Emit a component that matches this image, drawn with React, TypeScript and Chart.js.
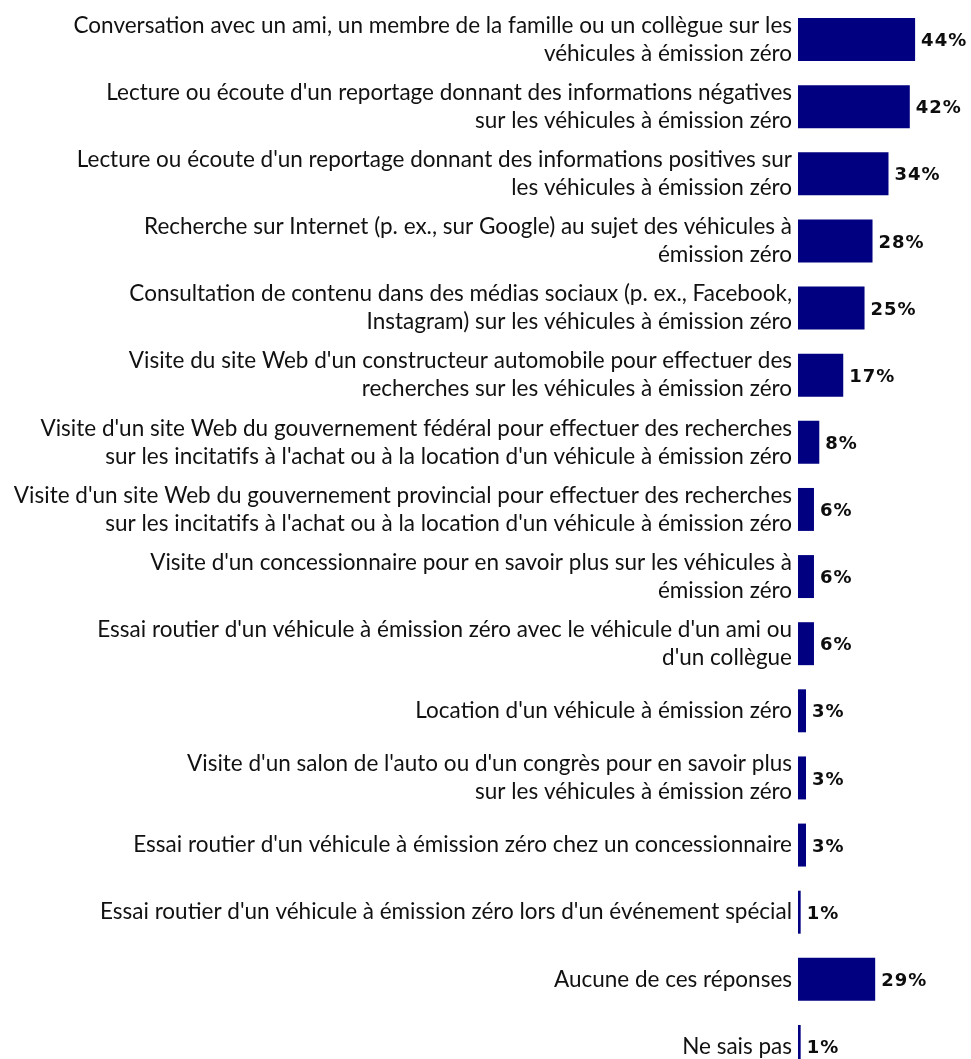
import React, { useEffect, useRef } from "react";
import { Chart, registerables } from "chart.js";

Chart.register(...registerables);

const categories: string[][] = [
  ["Conversation avec un ami, un membre de la famille ou un collègue sur les", "véhicules à émission zéro"],
  ["Lecture ou écoute d'un reportage donnant des informations négatives", "sur les véhicules à émission zéro"],
  ["Lecture ou écoute d'un reportage donnant des informations positives sur", "les véhicules à émission zéro"],
  ["Recherche sur Internet (p. ex., sur Google) au sujet des véhicules à", "émission zéro"],
  ["Consultation de contenu dans des médias sociaux (p. ex., Facebook,", "Instagram) sur les véhicules à émission zéro"],
  ["Visite du site Web d'un constructeur automobile pour effectuer des", "recherches sur les véhicules à émission zéro"],
  ["Visite d'un site Web du gouvernement fédéral pour effectuer des recherches", "sur les incitatifs à l'achat ou à la location d'un véhicule à émission zéro"],
  ["Visite d'un site Web du gouvernement provincial pour effectuer des recherches", "sur les incitatifs à l'achat ou à la location d'un véhicule à émission zéro"],
  ["Visite d'un concessionnaire pour en savoir plus sur les véhicules à", "émission zéro"],
  ["Essai routier d'un véhicule à émission zéro avec le véhicule d'un ami ou", "d'un collègue"],
  ["Location d'un véhicule à émission zéro"],
  ["Visite d'un salon de l'auto ou d'un congrès pour en savoir plus", "sur les véhicules à émission zéro"],
  ["Essai routier d'un véhicule à émission zéro chez un concessionnaire"],
  ["Essai routier d'un véhicule à émission zéro lors d'un événement spécial"],
  ["Aucune de ces réponses"],
  ["Ne sais pas"],
];

const values: number[] = [44, 42, 34, 28, 25, 17, 8, 6, 6, 6, 3, 3, 3, 1, 29, 1];

const BAR_COLOR = "#000080";

const valueLabelPlugin = {
  id: "valueLabels",
  afterDatasetsDraw(chart: any) {
    const ctx = chart.ctx as CanvasRenderingContext2D;
    const meta = chart.getDatasetMeta(0);
    ctx.save();
    ctx.font = "bold 18px 'DejaVu Sans', Verdana, sans-serif";
    (ctx as any).letterSpacing = "1px";
    ctx.fillStyle = "#0d0d0d";
    ctx.textAlign = "left";
    ctx.textBaseline = "middle";
    meta.data.forEach((bar: any, i: number) => {
      const v = chart.data.datasets[0].data[i];
      ctx.fillText(`${v}%`, bar.x + 6, bar.y + 2);
    });
    ctx.restore();
  },
};

export default function App() {
  const ref = useRef<HTMLCanvasElement | null>(null);

  useEffect(() => {
    if (!ref.current) return;
    const chart = new Chart(ref.current, {
      type: "bar",
      data: {
        labels: categories,
        datasets: [
          {
            data: values,
            backgroundColor: BAR_COLOR,
            borderWidth: 0,
            barPercentage: 0.64,
            categoryPercentage: 1,
          },
        ],
      },
      options: {
        indexAxis: "y",
        animation: false,
        responsive: false,
        maintainAspectRatio: false,
        layout: { padding: { top: 6, bottom: 0, left: 0, right: 0 } },
        plugins: {
          legend: { display: false },
          tooltip: { enabled: false },
        },
        scales: {
          x: { display: false, min: 0, max: 65 },
          y: {
            grid: { display: false, drawTicks: false },
            border: { display: false },
            ticks: {
              autoSkip: false,
              padding: 6,
              color: "#111111",
              font: { family: "Lato, 'Open Sans', sans-serif", size: 22.5, lineHeight: 28 / 22.5 },
            },
            afterFit: (scale: any) => {
              scale.width = 798;
              scale.paddingTop = 0;
              scale.paddingBottom = 0;
            },
          },
        },
      },
      plugins: [valueLabelPlugin],
    });
    return () => chart.destroy();
  }, []);

  return (
    <div
      style={{
        position: "fixed",
        top: 0,
        left: 0,
        width: 971,
        height: 1059,
        overflow: "hidden",
        background: "#ffffff",
      }}
    >
      <canvas ref={ref} width={971} height={1080} style={{ display: "block" }} />
    </div>
  );
}
